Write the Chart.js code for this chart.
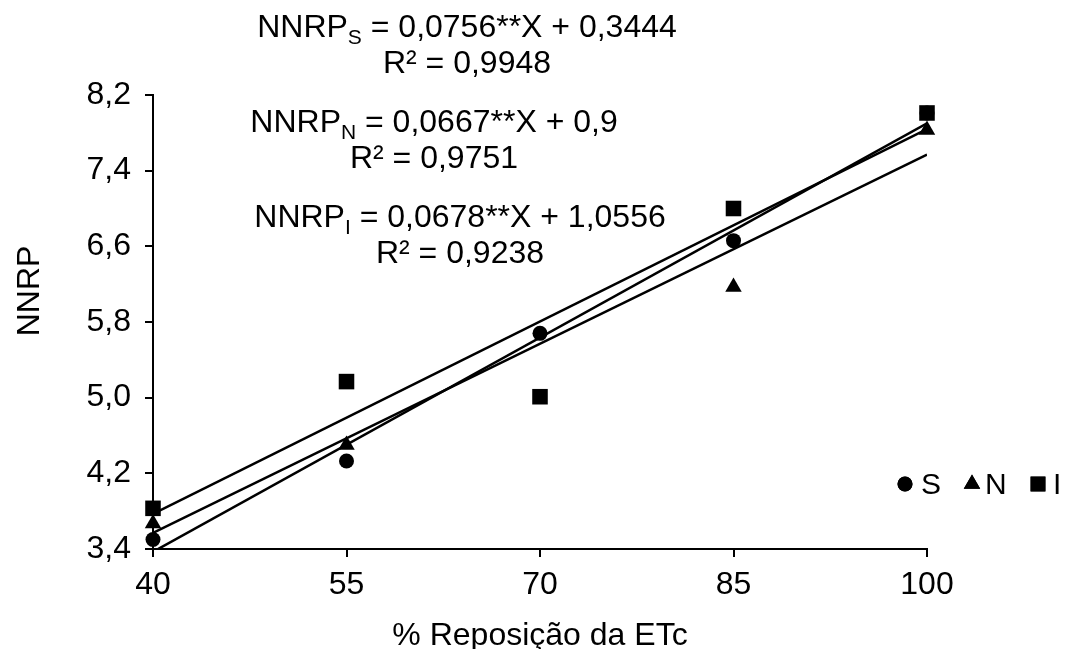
<!DOCTYPE html>
<html>
<head>
<meta charset="utf-8">
<script src="https://cdn.jsdelivr.net/npm/chart.js@4/dist/chart.umd.min.js"></script>
<style>
    body { margin: 0; background: #fff; }
    #wrap { width: 1065px; height: 649px; }
</style>
</head>
<body>
<div id="wrap"><canvas id="nnrpChart" width="1065" height="649"></canvas></div>
<script>
// Data
const xValues = [40, 55, 70, 85, 100];
const seriesS = [3.50, 4.33, 5.68, 6.66, 8.01];
const seriesN = [3.67, 4.50, 5.68, 6.17, 7.83];
const seriesI = [3.83, 5.17, 5.01, 7.00, 8.01];

// Fitted trend lines (ends at x = 40 and x = 100)
const trendX = [40, 100];
const trendS = [3.37, 7.90];
const trendN = [3.57, 7.57];
const trendI = [3.77, 7.84];

const yTicks = [3.4, 4.2, 5.0, 5.8, 6.6, 7.4, 8.2];
const xTicks = [40, 55, 70, 85, 100];

const equations = [
    { name: 'NNRP', sub: 'S', rest: ' = 0,0756**X + 0,3444', r2: 'R² = 0,9948', cx: 467, y: 37 },
    { name: 'NNRP', sub: 'N', rest: ' = 0,0667**X + 0,9', r2: 'R² = 0,9751', cx: 434, y: 132 },
    { name: 'NNRP', sub: 'I', rest: ' = 0,0678**X + 1,0556', r2: 'R² = 0,9238', cx: 460, y: 227 }
];

const FONT = '"Liberation Sans", Arial, sans-serif';

function toPoints(xs, ys) {
    return xs.map((x, i) => ({ x: x, y: ys[i] }));
}

function trendDataset(ys) {
    return {
        type: 'line',
        data: toPoints(trendX, ys),
        borderColor: '#000',
        borderWidth: 2.5,
        pointRadius: 0,
        showLine: true,
        fill: false,
        order: 4
    };
}

// equations, axis titles and legend
const annotations = {
    id: 'annotations',
    afterDraw(chart) {
        const ctx = chart.ctx;
        ctx.save();
        ctx.fillStyle = '#000';
        ctx.textBaseline = 'alphabetic';

        equations.forEach(eq => {
            const big = '32px ' + FONT;
            const small = '21px ' + FONT;
            ctx.font = big;
            const w1 = ctx.measureText(eq.name).width;
            const w3 = ctx.measureText(eq.rest).width;
            ctx.font = small;
            const w2 = ctx.measureText(eq.sub).width;
            let x = eq.cx - (w1 + w2 + w3) / 2;
            ctx.textAlign = 'left';
            ctx.font = big;
            ctx.fillText(eq.name, x, eq.y);
            x += w1;
            ctx.font = small;
            ctx.fillText(eq.sub, x, eq.y + 7);
            x += w2;
            ctx.font = big;
            ctx.fillText(eq.rest, x, eq.y);
            ctx.textAlign = 'center';
            ctx.fillText(eq.r2, eq.cx, eq.y + 36);
        });

        // axis titles
        ctx.font = '32px ' + FONT;
        ctx.textAlign = 'center';
        ctx.fillText('% Reposição da ETc', 540, 645);
        ctx.save();
        ctx.translate(39, 291);
        ctx.rotate(-Math.PI / 2);
        ctx.fillText('NNRP', 0, 0);
        ctx.restore();

        // legend
        const items = [
            { style: 'circle', r: 7.5, label: 'S', px: 905, tx: 921 },
            { style: 'triangle', r: 9.5, label: 'N', px: 972, tx: 985 },
            { style: 'rect', r: 10.5, label: 'I', px: 1038, tx: 1053 }
        ];
        ctx.font = '30px ' + FONT;
        ctx.textAlign = 'left';
        items.forEach(it => {
            Chart.helpers.drawPoint(ctx, { pointStyle: it.style, radius: it.r, borderWidth: 0 }, it.px, 484);
            ctx.fillStyle = '#000';
            ctx.fill();
            ctx.fillText(it.label, it.tx, 494);
        });
        ctx.restore();
    }
};

const ctx = document.getElementById('nnrpChart').getContext('2d');
const nnrpChart = new Chart(ctx, {
    type: 'scatter',
    data: {
        datasets: [
            {
                label: 'S',
                data: toPoints(xValues, seriesS),
                pointStyle: 'circle',
                pointRadius: 7.5,
                backgroundColor: '#000',
                borderColor: '#000',
                borderWidth: 0,
                clip: false,
                order: 2
            },
            {
                label: 'N',
                data: toPoints(xValues, seriesN),
                pointStyle: 'triangle',
                pointRadius: [9.5, 9.5, 6, 9.5, 9.5],
                backgroundColor: '#000',
                borderColor: '#000',
                borderWidth: 0,
                clip: false,
                order: 3
            },
            {
                label: 'I',
                data: toPoints(xValues, seriesI),
                pointStyle: 'rect',
                pointRadius: 11,
                backgroundColor: '#000',
                borderColor: '#000',
                borderWidth: 0,
                clip: false,
                order: 1
            },
            trendDataset(trendS),
            trendDataset(trendN),
            trendDataset(trendI)
        ]
    },
    options: {
        responsive: false,
        animation: false,
        layout: { padding: { top: 95, right: 138, left: 0, bottom: 0 } },
        plugins: {
            legend: { display: false },
            tooltip: { enabled: false }
        },
        scales: {
            x: {
                type: 'linear',
                min: 40,
                max: 100,
                afterFit: s => { s.height = 100; },
                afterBuildTicks: s => { s.ticks = xTicks.map(v => ({ value: v })); },
                border: { color: '#000', width: 2 },
                grid: { drawOnChartArea: false, drawTicks: true, tickLength: 8, color: '#000', lineWidth: 2 },
                ticks: {
                    color: '#000',
                    padding: 9,
                    maxRotation: 0,
                    font: { family: FONT, size: 32 },
                    callback: v => String(v)
                }
            },
            y: {
                min: 3.4,
                max: 8.2,
                afterFit: s => { s.width = 153; },
                afterBuildTicks: s => { s.ticks = yTicks.map(v => ({ value: v })); },
                border: { color: '#000', width: 2 },
                grid: { drawOnChartArea: false, drawTicks: true, tickLength: 8, color: '#000', lineWidth: 2 },
                ticks: {
                    color: '#000',
                    padding: 14,
                    font: { family: FONT, size: 32 },
                    callback: v => v.toFixed(1).replace('.', ',')
                }
            }
        }
    },
    plugins: [annotations]
});
</script>
</body>
</html>
